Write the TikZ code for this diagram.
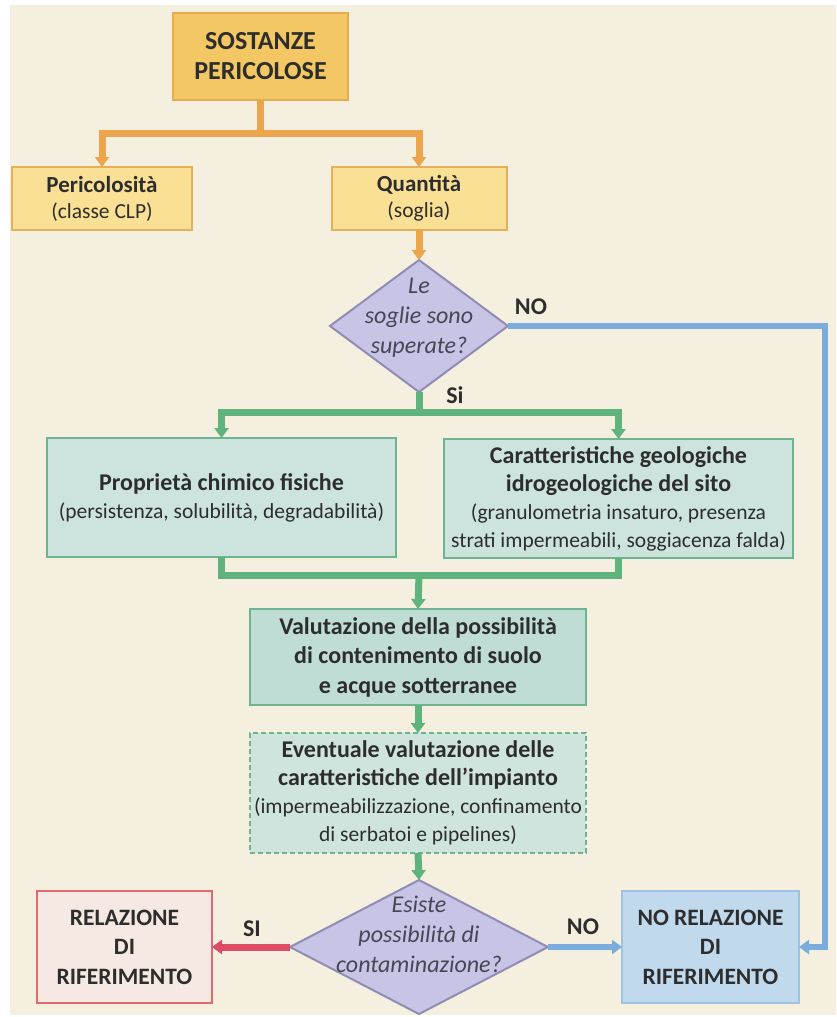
\documentclass[tikz,border=0pt]{standalone}
\usepackage{fontspec}
\setmainfont{Carlito}
\usetikzlibrary{arrows.meta,shapes.geometric}
\definecolor{bgc}{RGB}{244,239,222}
\definecolor{sostfill}{RGB}{243,200,100}
\definecolor{sostdraw}{RGB}{230,172,82}
\definecolor{yfill}{RGB}{249,224,148}
\definecolor{ydraw}{RGB}{228,176,90}
\definecolor{ocol}{RGB}{236,165,75}
\definecolor{dfill}{RGB}{200,196,230}
\definecolor{ddraw}{RGB}{145,140,180}
\definecolor{gcol}{RGB}{95,180,125}
\definecolor{gfill}{RGB}{204,228,221}
\definecolor{gdraw}{RGB}{110,180,145}
\definecolor{valfill}{RGB}{192,221,213}
\definecolor{evfill}{RGB}{206,228,220}
\definecolor{rfill}{RGB}{246,232,226}
\definecolor{rdraw}{RGB}{224,105,115}
\definecolor{rcol}{RGB}{222,75,100}
\definecolor{bfill}{RGB}{193,217,236}
\definecolor{bdraw}{RGB}{158,195,226}
\definecolor{bcol}{RGB}{122,172,222}
\definecolor{txt}{RGB}{45,45,45}
\definecolor{dtxt}{RGB}{70,70,85}
\begin{document}
\begin{tikzpicture}[x=1pt,y=-1pt,
  box/.style={draw, line width=2pt, inner sep=0pt, outer sep=0pt, align=center, text=txt,
    font=\fontsize{24}{28}\selectfont},
  sostbox/.style={box, fill=sostfill, draw=sostdraw, font=\fontsize{26}{30}\selectfont\bfseries},
  ybox/.style={box, fill=yfill, draw=ydraw, font=\fontsize{23}{26}\selectfont},
  gbox/.style={box, fill=gfill, draw=gdraw},
  valbox/.style={box, fill=valfill, draw=gdraw, font=\fontsize{24}{29.5}\selectfont\bfseries},
  evbox/.style={box, fill=evfill, draw=gdraw, dash pattern=on 5pt off 3pt},
  rbox/.style={box, fill=rfill, draw=rdraw, font=\fontsize{23.5}{29.5}\selectfont\bfseries},
  bbox/.style={box, fill=bfill, draw=bdraw, font=\fontsize{23.5}{29.5}\selectfont\bfseries},
  dia/.style={diamond, draw=ddraw, fill=dfill, line width=2pt, inner sep=0pt, outer sep=0pt},
  diatext/.style={align=center, text=dtxt, font=\fontsize{24}{30}\selectfont\itshape, inner sep=0pt},
  lbl/.style={text=txt, font=\fontsize{24}{28}\selectfont\bfseries, inner sep=0pt},
  arr/.style={-{Triangle[length=10pt,width=14pt]}},
  oline/.style={draw=ocol, line width=7pt},
  gline/.style={draw=gcol, line width=7pt},
  rline/.style={draw=rcol, line width=7pt},
  bline/.style={draw=bcol, line width=6pt}
]
\useasboundingbox (0,0) rectangle (836,1017);
\fill[white] (0,0) rectangle (836,1017);
\fill[bgc] (10,5) rectangle (836,1015);

% nodes
\node[sostbox, minimum width=175pt, minimum height=87pt] (sost) at (260.5,56.5) {SOSTANZE\\PERICOLOSE};
\node[ybox, minimum width=180pt, minimum height=63pt] (peric) at (102,198.5)
  {\bfseries Pericolosità\\\fontsize{21.5}{26}\selectfont (classe CLP)};
\node[ybox, minimum width=175pt, minimum height=63pt] (quant) at (419,198.5)
  {\bfseries Quantità\\\fontsize{21.5}{26}\selectfont (soglia)};

\node[dia, minimum width=178pt, minimum height=132pt] (d1) at (419,326) {};
\node[diatext] (d1t) at (419,318) {Le\\soglie sono\\superate?};

\node[gbox, minimum width=349pt, minimum height=119pt] (prop) at (221.5,497.5)
  {\bfseries Proprietà chimico fisiche\\\fontsize{21.5}{27}\selectfont (persistenza, solubilità, degradabilità)};
\node[gbox, minimum width=349pt, minimum height=119pt] (car) at (618.5,498.5)
  {\bfseries Caratteristiche geologiche\\\bfseries idrogeologiche del sito\\\fontsize{21.5}{27}\selectfont (granulometria insaturo, presenza\\\fontsize{21.5}{27}\selectfont strati impermeabili, soggiacenza falda)};

\node[valbox, minimum width=336pt, minimum height=96pt] (val) at (418,657)
  {Valutazione della possibilità\\di contenimento di suolo\\e acque sotterranee};

\node[evbox, minimum width=336pt, minimum height=120pt] (ev) at (418,793)
  {\bfseries Eventuale valutazione delle\\\bfseries caratteristiche dell’impianto\\\fontsize{21.5}{27}\selectfont (impermeabilizzazione, confinamento\\\fontsize{21.5}{27}\selectfont di serbatoi e pipelines)};

\node[dia, minimum width=258pt, minimum height=134pt] (d2) at (419,947) {};
\node[diatext] (d2t) at (419,934) {Esiste\\possibilità di\\contaminazione?};

\node[rbox, minimum width=175pt, minimum height=112pt] (rel) at (124.5,947) {RELAZIONE\\DI\\RIFERIMENTO};
\node[bbox, minimum width=177pt, minimum height=112pt] (norel) at (710.5,947) {NO RELAZIONE\\DI\\RIFERIMENTO};

% labels
\node[lbl] (lno1) at (531,307) {NO};
\node[lbl] (lsi1) at (455,395) {Si};
\node[lbl] (lsi2) at (252,929) {SI};
\node[lbl] (lno2) at (583,927) {NO};

% coordinates
\coordinate (oj) at (260.5,133);
\coordinate (gj) at (419,412);
\coordinate (gj2) at (419,575);
\coordinate (bc) at (825,947);

% connectors
\draw[oline] (sost.south) -- (oj);
\draw[oline,arr] (oj) -| (peric.north);
\draw[oline,arr] (oj) -| (quant.north);
\draw[oline,arr] (quant.south) -- (d1.north);

\draw[gline] (d1.south) -- (gj);
\draw[gline,arr] (gj) -| (prop.north);
\draw[gline,arr] (gj) -| (car.north);
\draw[gline] (prop.south) |- (gj2);
\draw[gline] (car.south) |- (gj2);
\draw[gline,arr] (gj2) -- (val.north);
\draw[gline,arr] (val.south) -- (ev.north);
\draw[gline,arr] (ev.south) -- (d2.north);

\draw[bline,arr] (d1.east) -| (bc) -- (norel.east);
\draw[bline,arr] (d2.east) -- (norel.west);
\draw[rline,arr] (d2.west) -- (rel.east);
\end{tikzpicture}
\end{document}
